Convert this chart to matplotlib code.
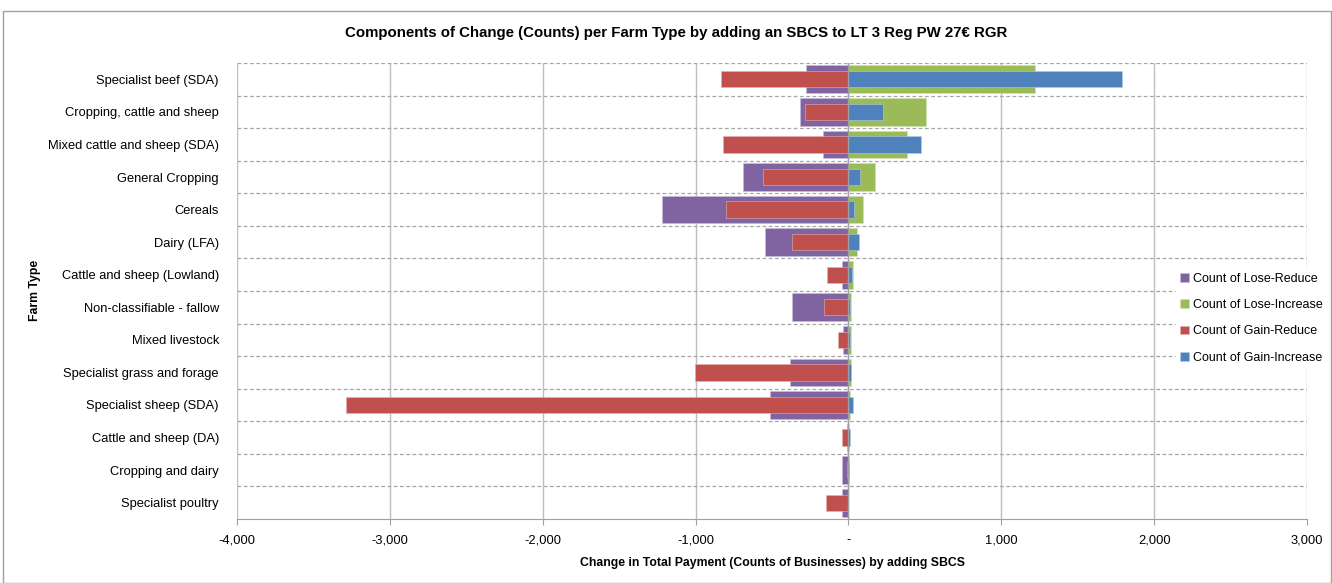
import matplotlib
matplotlib.use("Agg")
import matplotlib.pyplot as plt
from matplotlib.patches import Rectangle
from matplotlib.ticker import FuncFormatter, MultipleLocator
import numpy as np

plt.rcParams['font.family'] = ['Liberation Sans', 'DejaVu Sans']

categories = [
    "Specialist beef (SDA)", "Cropping, cattle and sheep", "Mixed cattle and sheep (SDA)",
    "General Cropping", "Cereals", "Dairy (LFA)", "Cattle and sheep (Lowland)",
    "Non-classifiable - fallow", "Mixed livestock", "Specialist grass and forage",
    "Specialist sheep (SDA)", "Cattle and sheep (DA)", "Cropping and dairy", "Specialist poultry",
]
lose_reduce = [-277, -319, -164, -687, -1217, -548, -44, -368, -33, -382, -510, -7, -39, -39]
lose_increase = [1222, 507, 380, 171, 93, 59, 28, 17, 20, 20, 13, 4, 4, 0]
gain_reduce = [-833, -283, -820, -561, -801, -368, -137, -160, -65, -1001, -3285, -39, -11, -147]
gain_increase = [1790, 225, 472, 74, 35, 66, 24, 11, 13, 17, 30, 13, 2, 0]

C_PURPLE = "#8064A2"
C_GREEN = "#9BBB59"
C_RED = "#C0504D"
C_BLUE = "#4F81BD"

fig = plt.figure(figsize=(13.32, 5.83), dpi=100)
fig.patches.append(Rectangle((3/1332, 0), 1 - 3/1332 - 0.0005, 1 - 11/583,
                             transform=fig.transFigure, fill=False,
                             edgecolor="#A0A0A0", linewidth=1.0))

ax = fig.add_axes([237/1332, 1 - 519/583, (1307-237)/1332, (519-63)/583])
y = np.arange(len(categories))

wide, narrow = 0.85, 0.5
ax.barh(y, lose_reduce, height=wide, color=C_PURPLE, edgecolor="#C9BDD8", linewidth=0.4, label="Count of Lose-Reduce", zorder=2)
ax.barh(y, lose_increase, height=wide, color=C_GREEN, edgecolor="#D3E2B6", linewidth=0.4, label="Count of Lose-Increase", zorder=2)
ax.barh(y, gain_reduce, height=narrow, color=C_RED, edgecolor="#E2B3B2", linewidth=0.4, label="Count of Gain-Reduce", zorder=3)
ax.barh(y, gain_increase, height=narrow, color=C_BLUE, edgecolor="#B5C9E3", linewidth=0.4, label="Count of Gain-Increase", zorder=3)

ax.set_xlim(-4000, 3000)
ax.set_ylim(len(categories) - 0.5, -0.5)
ax.xaxis.set_major_locator(MultipleLocator(1000))
ax.xaxis.set_major_formatter(FuncFormatter(lambda v, p: "-" if abs(v) < 1e-9 else f"{v:,.0f}"))
ax.set_yticks(y)
ax.set_yticklabels(categories, fontsize=9.3)
ax.tick_params(axis='y', length=0, pad=13)
ax.tick_params(axis='x', length=4, color="#A0A0A0", labelsize=9.3, pad=7)

ax.grid(axis='x', color="#BFBFBF", linewidth=1.0, zorder=0)
for b in np.arange(-0.5, len(categories) - 0.5, 1.0):
    ax.axhline(b, color="#A6A6A6", linewidth=0.9, linestyle=(0, (3, 2)), zorder=1)
ax.axvline(0, color="#A0A0A0", linewidth=1.0, zorder=4)
ax.set_axisbelow(True)

for s in ["top", "right", "left"]:
    ax.spines[s].set_visible(False)
ax.spines["bottom"].set_color("#A0A0A0")

ax.set_xlabel("Change in Total Payment (Counts of Businesses) by adding SBCS", fontsize=8.8, fontweight="bold", labelpad=8)
fig.text(35/1332, 1 - 290/583, "Farm Type", rotation=90, fontsize=8.8, fontweight="bold", ha="center", va="center")
fig.text(676/1332, 1 - 33/583, "Components of Change (Counts) per Farm Type by adding an SBCS to LT 3 Reg PW 27€ RGR",
         fontsize=10.8, fontweight="bold", ha="center", va="center")

leg = ax.legend(loc="upper left", bbox_to_anchor=(1176/1332, 1 - 269/583), bbox_transform=fig.transFigure,
                frameon=True, fontsize=9, handlelength=0.7, handleheight=0.7, handletextpad=0.35,
                labelspacing=1.15, borderpad=0.3, borderaxespad=0)
leg.get_frame().set_edgecolor("white")
leg.get_frame().set_facecolor("white")
leg.get_frame().set_alpha(1.0)
leg.set_zorder(10)

fig.savefig("out.png", dpi=100)
